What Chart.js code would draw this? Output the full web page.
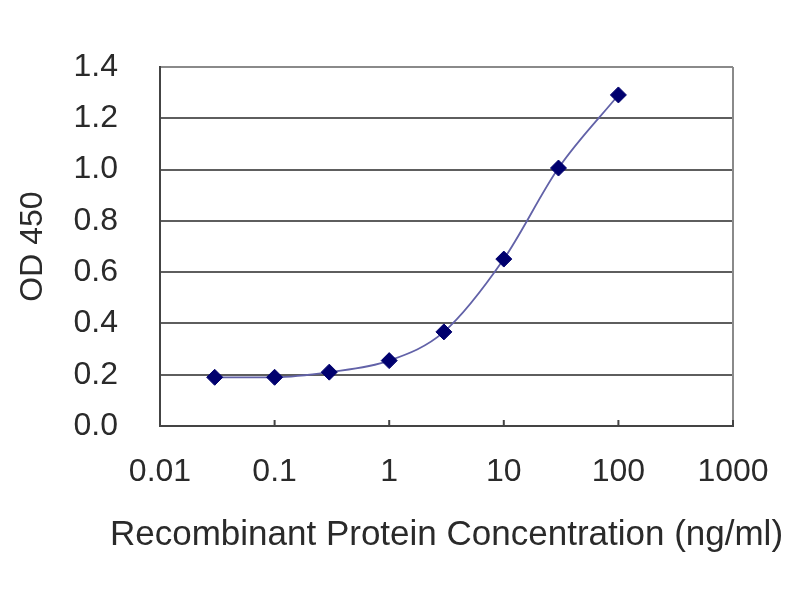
<!DOCTYPE html>
<html>
<head>
<meta charset="utf-8">
<script src="https://cdn.jsdelivr.net/npm/chart.js@4/dist/chart.umd.min.js"></script>
<style>
html,body{margin:0;padding:0;background:#fff;}
#c{display:block;}
</style>
</head>
<body>
<canvas id="c" width="800" height="600"></canvas>
<script>
const concentrations = [0.03, 0.1, 0.3, 1, 3, 10, 30, 100];
const odValues = [0.19, 0.19, 0.21, 0.255, 0.367, 0.651, 1.006, 1.291];
const xTickValues = [0.01, 0.1, 1, 10, 100, 1000];
const xTickLabels = ['0.01', '0.1', '1', '10', '100', '1000'];
const yTickValues = [0, 0.2, 0.4, 0.6, 0.8, 1.0, 1.2, 1.4];
const xAxisTitle = 'Recombinant Protein Concentration (ng/ml)';
const yAxisTitle = 'OD 450';

const FONT = 'Liberation Sans, Arial, sans-serif';

const frameAndTicks = {
  id: 'frameAndTicks',
  beforeDatasetsDraw(chart) {
    const {ctx, chartArea} = chart;
    const xs = chart.scales.x;
    ctx.save();
    ctx.strokeStyle = '#8a8a8a';
    ctx.lineWidth = 2;
    ctx.beginPath();
    ctx.moveTo(chartArea.right, chartArea.top);
    ctx.lineTo(chartArea.right, chartArea.bottom);
    ctx.stroke();
    ctx.strokeStyle = '#444';
    ctx.lineWidth = 2;
    xs.ticks.forEach(t => {
      const px = xs.getPixelForValue(t.value);
      ctx.beginPath();
      ctx.moveTo(px, chartArea.bottom);
      ctx.lineTo(px, chartArea.bottom - 6);
      ctx.stroke();
    });
    ctx.restore();
  },
  afterDraw(chart) {
    const {ctx, chartArea} = chart;
    ctx.save();
    ctx.fillStyle = '#2a2a2a';
    ctx.font = '35px ' + FONT;
    ctx.textAlign = 'center';
    ctx.textBaseline = 'middle';
    ctx.fillText(xAxisTitle, (chartArea.left + chartArea.right) / 2, chartArea.bottom + 109);
    ctx.restore();
  }
};

new Chart(document.getElementById('c'), {
  type: 'scatter',
  data: {
    datasets: [{
      data: concentrations.map((c, i) => ({x: c, y: odValues[i]})),
      showLine: true,
      cubicInterpolationMode: 'monotone',
      borderColor: '#6262a8',
      borderWidth: 1.8,
      pointStyle: 'rectRot',
      pointRadius: 8,
      pointBackgroundColor: '#00006e',
      pointBorderColor: '#00006e',
      pointBorderWidth: 1
    }]
  },
  options: {
    responsive: false,
    devicePixelRatio: 1,
    animation: false,
    layout: {padding: {top: 67, right: 67, left: 0, bottom: 0}},
    plugins: {legend: {display: false}, tooltip: {enabled: false}},
    scales: {
      x: {
        type: 'logarithmic',
        min: 0.01,
        max: 1000,
        afterBuildTicks: s => { s.ticks = xTickValues.map(v => ({value: v})); },
        afterFit: s => { s.height = 174; },
        ticks: {
          autoSkip: false,
          maxRotation: 0,
          padding: 27,
          color: '#2a2a2a',
          font: {family: FONT, size: 32},
          callback: (v) => { const i = xTickValues.indexOf(v); return i >= 0 ? xTickLabels[i] : ''; }
        },
        grid: {display: true, drawOnChartArea: false, drawTicks: false, tickLength: 0},
        border: {display: true, color: '#444', width: 2},
        title: {display: false, text: xAxisTitle}
      },
      y: {
        type: 'linear',
        min: 0,
        max: 1.4,
        afterBuildTicks: s => { s.ticks = yTickValues.map(v => ({value: v})); },
        afterFit: s => { s.width = 160; },
        ticks: {
          padding: 42,
          color: '#2a2a2a',
          font: {family: FONT, size: 32},
          callback: v => Number(v).toFixed(1)
        },
        grid: {
          drawTicks: false,
          tickLength: 0,
          lineWidth: 2,
          color: ctx => (ctx.tick && ctx.tick.value === 1.4) ? '#8a8a8a' : '#5e5e5e'
        },
        border: {display: true, color: '#444', width: 2},
        title: {
          display: true,
          text: yAxisTitle,
          color: '#2a2a2a',
          font: {family: FONT, size: 32},
          padding: {top: 14, bottom: 14}
        }
      }
    }
  },
  plugins: [frameAndTicks]
});
</script>
</body>
</html>
